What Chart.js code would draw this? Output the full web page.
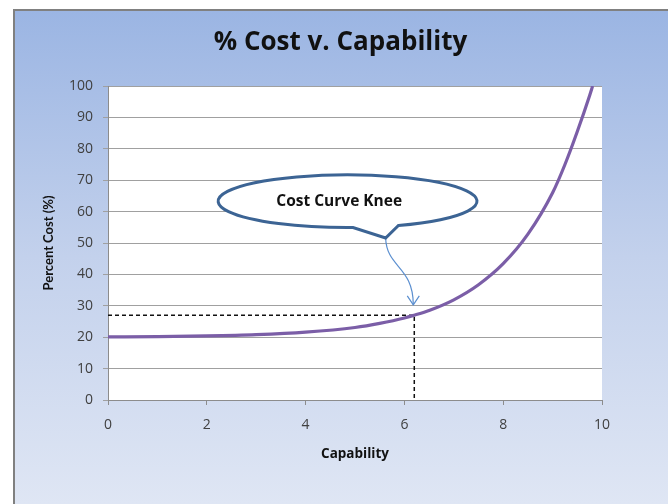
<!DOCTYPE html>
<html>
<head>
<meta charset="utf-8">
<script src="https://cdn.jsdelivr.net/npm/chart.js@4.4.1/dist/chart.umd.min.js"></script>
<style>
  html, body { margin: 0; padding: 0; background: #ffffff; width: 668px; height: 504px; overflow: hidden; }
  #frame { position: absolute; left: 13px; top: 9px; width: 655px; height: 495px; box-sizing: border-box;
           border-left: 2px solid #808080; border-top: 2px solid #808080;
           background: linear-gradient(to bottom, #9bb5e3 0%, #c3d1ec 50%, #dfe6f4 100%); }
  #c { position: absolute; left: 13px; top: 9px; }
</style>
</head>
<body>
<div id="frame"></div>
<canvas id="c" width="655" height="495"></canvas>
<script>
// ---- data ----
const capability = [0, 1, 2, 3, 4, 5, 5.5, 6, 6.2, 6.5, 7, 7.5, 8, 8.5, 9, 9.25, 9.5, 9.75, 9.81];
const percentCost = [20.1, 20.2, 20.4, 20.8, 21.6, 23.1, 24.4, 26.1, 27, 28.5, 31.9, 36.7, 43.4, 52.8, 66, 75, 85.5, 97, 100];
const kneeX = [0, 6.2, 6.2];
const kneeY = [27, 27, 0];
const xTicks = [0, 2, 4, 6, 8, 10];
const yTicks = [0, 10, 20, 30, 40, 50, 60, 70, 80, 90, 100];
const titleText = '% Cost v. Capability';
const xTitle = 'Capability';
const yTitle = 'Percent Cost (%)';
const calloutText = 'Cost Curve Knee';

const curvePts = capability.map((x, i) => ({ x: x, y: percentCost[i] }));
const kneePts = kneeX.map((x, i) => ({ x: x, y: kneeY[i] }));

const plotBg = {
  id: 'plotBg',
  beforeDraw(chart) {
    const { ctx, chartArea: a } = chart;
    ctx.save();
    ctx.fillStyle = '#ffffff';
    ctx.fillRect(a.left, a.top, a.right - a.left, a.bottom - a.top);
    ctx.restore();
  }
};

const callout = {
  id: 'callout',
  afterDatasetsDraw(chart) {
    const { ctx } = chart;
    const xs = chart.scales.x, ys = chart.scales.y;
    const px = v => xs.getPixelForValue(v), py = v => ys.getPixelForValue(v);
    const cx = px(4.85), cy = py(63.3);
    const rx = px(4.85 + 2.62) - cx, ry = py(63.3 - 8.4) - cy;
    const tip = { x: px(5.62), y: py(51.6) };
    const aL = Math.acos((px(4.96) - cx) / rx);
    const aR = Math.acos((px(5.88) - cx) / rx);
    ctx.save();
    // arrow
    ctx.strokeStyle = '#5b8fd0';
    ctx.lineWidth = 1.2;
    const end = { x: px(6.18), y: py(30.3) };
    ctx.beginPath();
    ctx.moveTo(tip.x, tip.y);
    ctx.bezierCurveTo(tip.x + 1, tip.y + 30, end.x, tip.y + 28, end.x, end.y);
    ctx.stroke();
    ctx.beginPath();
    ctx.moveTo(end.x - 6, end.y - 9);
    ctx.lineTo(end.x, end.y);
    ctx.lineTo(end.x + 6, end.y - 9);
    ctx.stroke();
    // ellipse with tail
    ctx.beginPath();
    ctx.moveTo(cx + rx * Math.cos(aR), cy + ry * Math.sin(aR));
    ctx.ellipse(cx, cy, rx, ry, 0, aR, aL, true);
    ctx.lineTo(tip.x, tip.y);
    ctx.closePath();
    ctx.fillStyle = '#ffffff';
    ctx.fill();
    ctx.strokeStyle = '#3c6494';
    ctx.lineWidth = 3;
    ctx.lineJoin = 'miter';
    ctx.stroke();
    ctx.fillStyle = '#111111';
    ctx.font = 'bold 15.5px "Open Sans"';
    ctx.textAlign = 'center';
    ctx.textBaseline = 'middle';
    ctx.fillText(calloutText, px(4.68), py(63.3));
    ctx.restore();
  }
};

new Chart(document.getElementById('c'), {
  type: 'scatter',
  data: {
    datasets: [
      { data: curvePts, showLine: true, borderColor: '#7b5ea7', borderWidth: 3.2, pointRadius: 0,
        cubicInterpolationMode: 'monotone', fill: false, order: 1 },
      { data: kneePts, showLine: true, borderColor: '#111111', borderWidth: 1.5, borderDash: [4, 3],
        pointRadius: 0, tension: 0, fill: false, order: 2 }
    ]
  },
  options: {
    responsive: false,
    devicePixelRatio: 1,
    animation: false,
    layout: { padding: 0 },
    plugins: {
      legend: { display: false },
      tooltip: { enabled: false },
      title: { display: true, text: titleText, color: '#111111',
               font: { family: 'Open Sans', size: 26, weight: 'bold', lineHeight: 1.2 },
               padding: { top: 18, bottom: 27.8 } }
    },
    scales: {
      x: {
        type: 'linear', min: 0, max: 10,
        afterFit: s => { s.height = 104; },
        afterBuildTicks: s => { s.ticks = xTicks.map(v => ({ value: v })); },
        grid: { drawOnChartArea: false, drawTicks: true, tickLength: 5, color: '#8c8c8c' },
        border: { color: '#8c8c8c', width: 1 },
        ticks: { color: '#404040', font: { family: 'Open Sans', size: 14 }, padding: 12 },
        title: { display: true, text: xTitle, color: '#111111',
                 font: { family: 'Open Sans', size: 13.5, weight: 'bold', lineHeight: 1.2 },
                 padding: { top: 0, bottom: 41.8 } }
      },
      y: {
        type: 'linear', min: 0, max: 100,
        afterFit: s => { s.width = 95; },
        afterBuildTicks: s => { s.ticks = yTicks.map(v => ({ value: v })); },
        grid: { drawOnChartArea: true, drawTicks: true, tickLength: 5, color: '#a0a0a0' },
        border: { color: '#8c8c8c', width: 1 },
        ticks: { color: '#404040', font: { family: 'Open Sans', size: 14 }, padding: 10 },
        title: { display: true, text: yTitle, color: '#111111',
                 font: { family: 'Lato', size: 13, weight: 'bold', lineHeight: 1.2 },
                 padding: { top: 27.8, bottom: 0 } }
      },
      spacer: {
        type: 'linear', position: 'right', display: true, min: 0, max: 1,
        afterFit: s => { s.width = 66; },
        grid: { display: false, drawOnChartArea: false },
        border: { display: false },
        ticks: { display: false }
      }
    }
  },
  plugins: [plotBg, callout]
});
</script>
</body>
</html>
